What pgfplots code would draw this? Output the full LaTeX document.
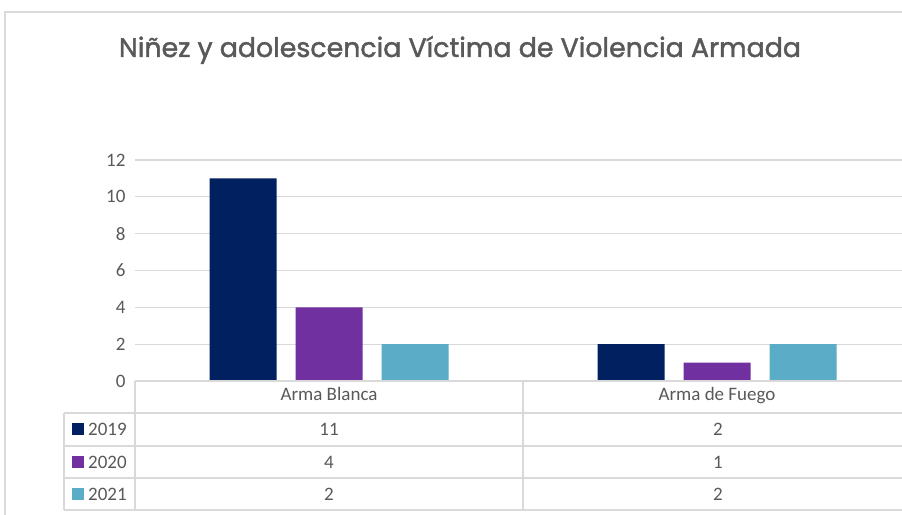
\documentclass[border=0pt]{standalone}
\usepackage{pgfplots}
\pgfplotsset{compat=1.18}
\usepackage{fontspec}
\setmainfont{Carlito}
\newfontfamily\titlefont[FakeBold=1.6]{Poppins}
\definecolor{c19}{HTML}{002060}
\definecolor{c20}{HTML}{7030A0}
\definecolor{c21}{HTML}{5BACC6}
\definecolor{txt}{HTML}{595959}
\definecolor{gridc}{HTML}{D9D9D9}
\begin{document}
\begin{tikzpicture}[x=1pt,y=1pt]
\useasboundingbox (0,0) rectangle (902,514);
\clip (0,0) rectangle (902,514);
\fill[white] (0,0) rectangle (902,514);
\draw[gridc, line width=1.2pt] (5,-5) -- (5,502) -- (910,502);
\node[txt, font=\titlefont\fontsize{26.8}{30}\selectfont, anchor=base] at (460,457) {Niñez y adolescencia Víctima de Violencia Armada};
\begin{axis}[at={(135pt,133pt)}, anchor=south west, scale only axis, width=776pt, height=221pt,
 ymin=0, ymax=12, xmin=-0.5, xmax=1.5, ytick={0,2,...,12}, xtick={0,1},
 xticklabels={Arma Blanca, Arma de Fuego},
 ybar=19pt, bar width=67pt, axis line style={draw=none}, ymajorgrids,
 grid style={gridc, line width=1.2pt},
 major tick length=0pt, tick label style={txt, font=\fontsize{19}{22}\selectfont},
 /pgf/number format/assume math mode=true,
 xticklabel style={anchor=center, text height=10pt, text depth=3.5pt, yshift=-16pt}, yticklabel style={xshift=-6pt},
 clip=false]
\addplot[fill=c19, draw=none] coordinates {(0,11) (1,2)};
\addplot[fill=c20, draw=none] coordinates {(0,4) (1,1)};
\addplot[fill=c21, draw=none] coordinates {(0,2) (1,2)};
\end{axis}
% data table
\begin{scope}[gridc, line width=1.2pt]
\draw (135,133) -- (910,133);
\draw (64,101) -- (910,101);
\draw (64,68) -- (910,68);
\draw (64,36) -- (910,36);
\draw (64,4) -- (910,4);
\draw (64,101) -- (64,4);
\draw (135,133) -- (135,4);
\draw (523,133) -- (523,4);
\end{scope}
\begin{scope}[font=\fontsize{19}{22}\selectfont, text=txt]
\fill[c19] (72,79) rectangle (84,91);
\fill[c20] (72,46) rectangle (84,58);
\fill[c21] (72,14) rectangle (84,26);
\node[anchor=west, inner sep=0] at (88,84.5) {2019};
\node[anchor=west, inner sep=0] at (88,52) {2020};
\node[anchor=west, inner sep=0] at (88,20) {2021};
\node at (329,84.5) {11};
\node at (718,84.5) {2};
\node at (329,52) {4};
\node at (718,52) {1};
\node at (329,20) {2};
\node at (718,20) {2};
\end{scope}
\end{tikzpicture}
\end{document}
